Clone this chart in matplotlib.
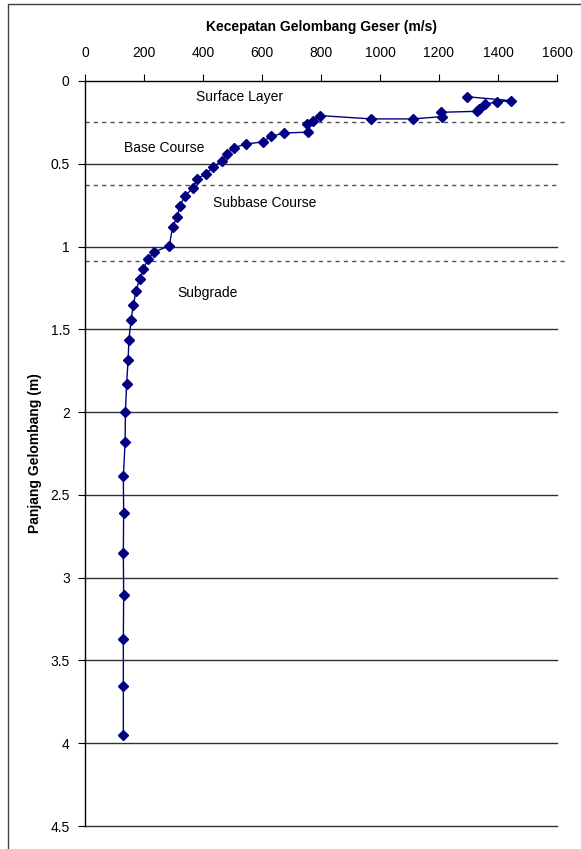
import matplotlib
matplotlib.use('Agg')
import matplotlib.pyplot as plt
from matplotlib.patches import Rectangle

plt.rcParams['font.family'] = ['Liberation Sans', 'DejaVu Sans']

# shear wave velocity (m/s) vs wavelength (m), in plotted order
velocity = [1296, 1444, 1398, 1357, 1337, 1330, 1207, 1211, 1112, 971,
            798, 774, 754, 757, 675, 629, 604, 546, 505, 482,
            463, 435, 410, 380, 365, 339, 322, 312, 297, 286,
            234, 214, 198, 185, 173, 164, 156, 149, 146, 141,
            137, 136, 130, 131, 130, 131, 130, 130, 130]
depth = [0.095, 0.119, 0.125, 0.14, 0.167, 0.183, 0.189, 0.215, 0.229, 0.229,
         0.209, 0.239, 0.259, 0.309, 0.314, 0.335, 0.367, 0.381, 0.402, 0.44,
         0.482, 0.52, 0.56, 0.59, 0.649, 0.693, 0.753, 0.823, 0.881, 0.994,
         1.034, 1.075, 1.134, 1.195, 1.269, 1.351, 1.446, 1.562, 1.687, 1.833,
         2.0, 2.18, 2.386, 2.61, 2.85, 3.107, 3.373, 3.657, 3.948]

# layer boundaries (dashed) and layer names
boundaries = [0.245, 0.628, 1.085]
boundary_ends = [1634, 1607, 1634]
layer_names = ['Surface Layer', 'Base Course', 'Subbase Course', 'Subgrade']
layer_x = [376, 133, 433, 313]
layer_y = [0.097, 0.403, 0.737, 1.278]

x_ticks = [0, 200, 400, 600, 800, 1000, 1200, 1400, 1600]
y_ticks = [0, 0.5, 1, 1.5, 2, 2.5, 3, 3.5, 4, 4.5]
y_ticklabels = ['0', '0.5', '1', '1.5', '2', '2.5', '3', '3.5', '4', '4.5']

fig = plt.figure(figsize=(5.81, 8.49), dpi=100)
ax = fig.add_axes([85 / 581, 1 - 826 / 849, 472 / 581, 745 / 849])

# outer frame (only top and left visible in the crop)
fig.patches.append(Rectangle((8 / 581, -0.2), 1.5, 0.2 + 1 - 4 / 849,
                             transform=fig.transFigure, fill=False,
                             edgecolor='#404040', lw=1))

for y in y_ticks[1:]:
    ax.axhline(y, color='#303030', lw=1, zorder=1, clip_on=False)

for b, e in zip(boundaries, boundary_ends):
    ax.plot([0, e], [b, b], color='#505050', lw=1, ls=(0, (3, 3)),
            clip_on=False, zorder=2)

for name, x, y in zip(layer_names, layer_x, layer_y):
    ax.text(x, y, name, fontsize=10, ha='left', va='center', color='black')

ax.plot(velocity, depth, color='#000080', lw=1, marker='D', markersize=5,
        markerfacecolor='#000080', markeredgecolor='#000080', zorder=3)

ax.set_xlim(0, 1600)
ax.set_ylim(4.5, 0)
ax.xaxis.tick_top()
ax.xaxis.set_label_position('top')
ax.set_xticks(x_ticks)
ax.set_yticks(y_ticks)
ax.set_yticklabels(y_ticklabels)
ax.tick_params(axis='x', direction='out', length=5, pad=10, labelsize=10)
ax.tick_params(axis='y', direction='out', length=5, pad=6, labelsize=10)

ax.spines['right'].set_visible(False)
ax.spines['bottom'].set_visible(False)
ax.spines['top'].set_linewidth(1)
ax.spines['left'].set_linewidth(1)

ax.set_xlabel('Kecepatan Gelombang Geser (m/s)', fontsize=10, fontweight='bold')
ax.xaxis.set_label_coords(0.5, (826 - 27) / 745)
ax.xaxis.label.set_va('center')
ax.set_ylabel('Panjang Gelombang (m)', fontsize=10, fontweight='bold')
ax.yaxis.set_label_coords((35 - 85) / 472, 0.5)
ax.yaxis.label.set_va('center')

fig.savefig('out.png', dpi=100)
